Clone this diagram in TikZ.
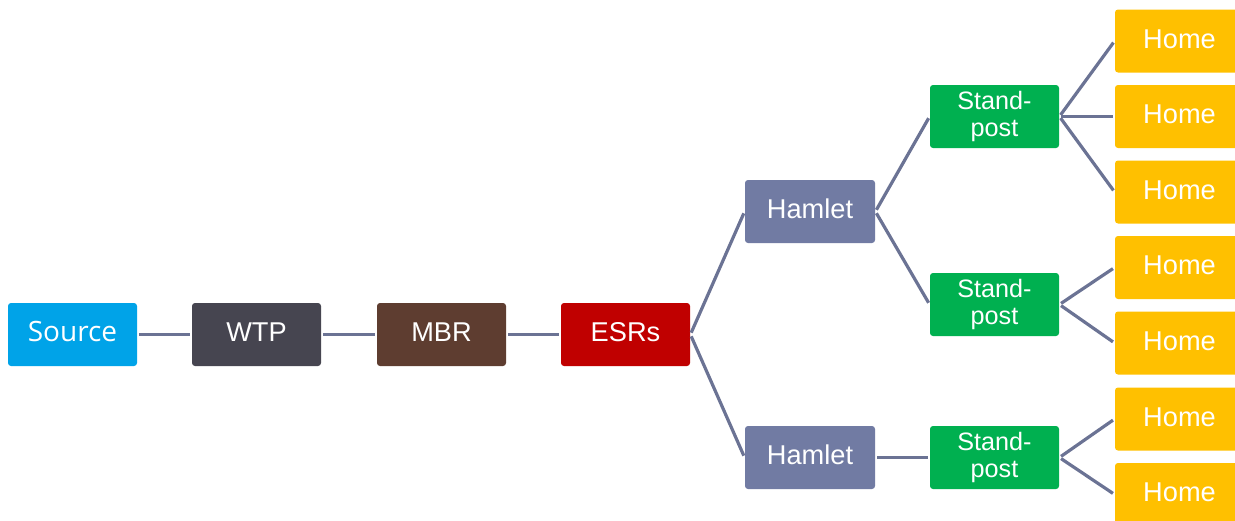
\documentclass[tikz,border=0pt]{standalone}
\usepackage{fontspec}
\setmainfont{Liberation Sans}
\newfontfamily\srcfont{Open Sans}
\usepackage{tikz}
\usetikzlibrary{positioning}
\definecolor{srcblue}{RGB}{0,163,232}
\definecolor{wtpgray}{RGB}{70,69,80}
\definecolor{mbrbrown}{RGB}{94,61,48}
\definecolor{esrred}{RGB}{192,0,0}
\definecolor{hamletblue}{RGB}{113,123,163}
\definecolor{postgreen}{RGB}{0,176,80}
\definecolor{homeyellow}{RGB}{255,192,0}
\definecolor{linkgray}{RGB}{107,115,148}
\tikzset{
  basebox/.style={rectangle,rounded corners=1.5pt,minimum width=64.5pt,minimum height=31.5pt,
    inner sep=1pt,text=white,align=center},
  flowbox/.style={basebox,text height=10pt,text depth=2.8pt,font=\fontsize{13.6}{14}\selectfont},
  postbox/.style={basebox,fill=postgreen,font=\fontsize{12.6}{13.6}\selectfont},
  homebox/.style={flowbox,fill=homeyellow},
  link/.style={draw=linkgray,line width=1.6pt,shorten <=1pt,shorten >=1pt}
}

\begin{document}
\begin{tikzpicture}[x=0.5pt,y=-0.5pt]
            \useasboundingbox (0,0) rectangle (1235,520);
            \clip (0,0) rectangle (1235,520);
            % main line
            \node[flowbox,fill=srcblue,font=\srcfont\fontsize{14}{16}\selectfont] (source) at (72.5,334.5) {Source};
            \node[flowbox,fill=wtpgray] (wtp) at (256.5,334.5) {WTP};
            \node[flowbox,fill=mbrbrown] (mbr) at (441.5,334.5) {MBR};
            \node[flowbox,fill=esrred] (esrs) at (625.5,334.5) {ESRs};
            % hamlets
            \node[flowbox,fill=hamletblue,minimum width=65pt] (hamA) at (810,211.5) {Hamlet};
            \node[flowbox,fill=hamletblue,minimum width=65pt] (hamB) at (810,457.5) {Hamlet};
            % stand-posts
            \node[postbox] (postA) at (994.5,116.5) {Stand-\\post};
            \node[postbox] (postB) at (994.5,304.5) {Stand-\\post};
            \node[postbox] (postC) at (994.5,457.5) {Stand-\\post};
            % homes
            \node[homebox] (homeA) at (1179.5,41) {Home};
            \node[homebox] (homeB) at (1179.5,116.5) {Home};
            \node[homebox] (homeC) at (1179.5,192) {Home};
            \node[homebox] (homeD) at (1179.5,267.5) {Home};
            \node[homebox] (homeE) at (1179.5,343) {Home};
            \node[homebox] (homeF) at (1179.5,419) {Home};
            \node[homebox] (homeG) at (1179.5,494.5) {Home};
            % connectors
            \draw[link] (source.east) -- (wtp.west);
            \draw[link] (wtp.east) -- (mbr.west);
            \draw[link] (mbr.east) -- (esrs.west);
            \draw[link] (esrs.east) -- (hamA.west);
            \draw[link] (esrs.east) -- (hamB.west);
            \draw[link] (hamA.east) -- (postA.west);
            \draw[link] (hamA.east) -- (postB.west);
            \draw[link] (hamB.east) -- (postC.west);
            \draw[link] (postA.east) -- (homeA.west);
            \draw[link] (postA.east) -- (homeB.west);
            \draw[link] (postA.east) -- (homeC.west);
            \draw[link] (postB.east) -- (homeD.west);
            \draw[link] (postB.east) -- (homeE.west);
            \draw[link] (postC.east) -- (homeF.west);
            \draw[link] (postC.east) -- (homeG.west);
        \end{tikzpicture}
\end{document}
